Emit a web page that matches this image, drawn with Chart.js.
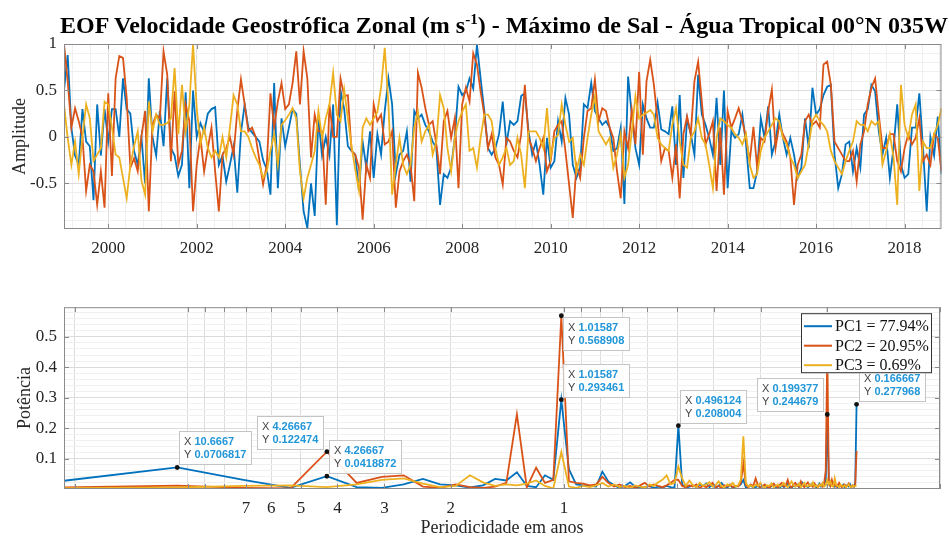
<!DOCTYPE html>
<html>
<head>
<meta charset="utf-8">
<script src="https://cdn.jsdelivr.net/npm/chart.js@4.4.0/dist/chart.umd.min.js"></script>
<style>
  body { margin: 0; background: #fff; width: 949px; height: 540px; overflow: hidden; position: relative; }
  #title { position: absolute; left: 504px; top: 13px; transform: translateX(-50%); white-space: nowrap;
           font: bold 24px "Liberation Serif", "Times New Roman", serif; line-height: 24px; color: #000; z-index: 2; }
  #title sup { font-size: 15px; vertical-align: 9px; line-height: 0; }
  #c1 { position: absolute; left: 0; top: 0; }
  #c2 { position: absolute; left: 0; top: 290px; }
</style>
</head>
<body>
<div id="title">EOF Velocidade Geostrófica Zonal (m s<sup>-1</sup>) - Máximo de Sal - Água Tropical 00°N 035W</div>
<canvas id="c1" width="949" height="262"></canvas>
<canvas id="c2" width="949" height="250"></canvas>
<script>
// monthly amplitudes, Jan 1999 .. Nov 2018
const startYear = 1999;
const pc1Amp = [
  0.5, 0.88, 0.1, -0.2, -0.3, 0.3, -0.05, -0.1, -0.68, 0.35, -0.2, 0.3,
  -0.05, 0.3, 0.3, 0.0, 0.63, 0.3, 0.25, -0.15, -0.3, 0.0, -0.5, 0.63,
  0.0, -0.2, 0.28, -0.1, 0.63, -0.12, -0.2, -0.42, -0.3, 0.48, -0.55, 0.5,
  0.0, 0.15, 0.05, 0.25, 0.3, 0.32, -0.3, -0.2, -0.48, -0.3, -0.1, -0.6,
  0.05, 0.35, 0.1, 0.05, 0.0, -0.05, -0.25, -0.35, -0.62, 0.58, -0.55, 0.2,
  -0.1, 0.1, 0.3, 0.25, -0.3, -0.8, -0.98, -0.5, -0.85, 0.2, -0.2, 0.0,
  -0.2, 0.35, -0.95, 0.5, 0.3, -0.1, -0.15, -0.19, -0.58, -0.05, -0.33, 0.06,
  -0.44, 0.03, -0.19, 0.28, 0.63, 0.35, -0.4, -0.19, -0.15, 0.06, -0.48, 0.28,
  0.2, 0.24, 0.13, 0.06, -0.05, -0.12, -0.73, -0.4, -0.44, -0.33, -0.01, 0.54,
  0.45, 0.49, 0.63, 0.52, 0.99, 0.63, 0.28, -0.12, -0.19, -0.12, 0.03, 0.38,
  -0.08, 0.17, 0.13, 0.17, 0.44, 0.47, 0.06, -0.19, -0.05, -0.3, -0.62, -0.01,
  -0.33, -0.26, 0.17, -0.05, 0.42, 0.24, -0.3, -0.44, -0.33, 0.35, 0.31, 0.58,
  0.28, 0.2, 0.13, 0.17, 0.1, -0.15, -0.12, 0.1, -0.72, 0.65, 0.24, -0.12,
  -0.3, 0.35, 0.2, 0.1, 0.1, 0.37, 0.08, 0.06, 0.03, 0.33, -0.3, 0.45,
  -0.44, 0.2, 0.03, -0.19, 0.67, 0.24, 0.13, -0.01, -0.19, 0.42, -0.3, 0.5,
  -0.55, 0.06, -0.01, 0.03, 0.24, -0.08, -0.55, -0.55, -0.37, 0.2, -0.01, 0.33,
  -0.19, -0.05, 0.24, -0.01, -0.19, -0.01, -0.19, -0.44, -0.33, 0.2, -0.12, 0.53,
  0.24, 0.3, 0.45, 0.54, 0.56, -0.19, -0.55, -0.4, -0.08, -0.05, -0.37, -0.12,
  -0.33, 0.24, 0.3, 0.56, 0.49, 0.06, -0.19, -0.01, -0.44, -0.12, 0.35, -0.3,
  -0.44, -0.4, 0.1, 0.1, 0.47, -0.12, -0.8, 0.0, -0.2, 0.22, -0.4
];
const pc2Amp = [
  1.0, 0.6, 0.1, 0.31, 0.17, 0.0, -0.58, -0.3, -0.37, -0.73, -0.37, -0.76,
  0.47, -0.42, 0.63, 0.87, 0.85, 0.42, -0.33, -0.23, -0.37, 0.0, 0.28, -0.8,
  0.13, 0.24, 0.2, 0.92, 0.67, -0.26, 0.49, -0.3, -0.15, 0.35, 0.17, -0.8,
  -0.3, 0.0, -0.37, -0.12, 0.1, -0.37, -0.8, -0.19, -0.12, 0.0, -0.19, 0.28,
  0.62, 0.35, 0.06, 0.1, 0.0, -0.25, -0.51, -0.3, 0.47, 0.1, 0.38, 0.58,
  0.3, 0.35, 0.58, 0.92, 0.35, 0.92, 0.63, -0.22, 0.24, 0.06, 0.06, -0.73,
  0.35, 0.0, 0.0, 0.63, 0.44, 0.45, -0.15, -0.19, -0.33, -0.89, -0.3, -0.44,
  0.35, 0.17, 0.24, -0.08, -0.05, 0.06, -0.76, -0.37, -0.26, -0.19, -0.3, -0.69,
  0.69, 0.53, 0.31, 0.13, 0.17, -0.08, -0.4, 0.17, 0.28, -0.01, 0.2, -0.55,
  0.35, 0.53, 0.38, 0.9, 0.78, 0.49, 0.24, -0.12, 0.03, -0.22, -0.3, -0.51,
  -0.01, -0.05, -0.15, -0.22, 0.03, 0.56, -0.01, -0.12, -0.26, -0.12, -0.01, -0.37,
  -0.26, 0.06, 0.13, 0.17, -0.15, -0.51, -0.87, -0.3, -0.44, -0.01, 0.28, 0.31,
  0.62, 0.17, 0.31, 0.28, 0.1, -0.01, -0.37, -0.66, 0.06, -0.12, 0.29, -0.08,
  0.7, -0.19, 0.6, 0.83, 0.56, 0.17, -0.26, -0.12, -0.15, -0.44, -0.08, -0.66,
  0.03, 0.22, 0.03, 0.6, 0.81, 0.38, -0.08, 0.03, 0.17, -0.58, 0.1, -0.62,
  0.28, 0.1, 0.2, 0.31, 0.17, -0.01, -0.26, 0.11, -0.33, -0.01, -0.05, 0.28,
  0.51, -0.12, 0.13, 0.03, -0.05, -0.22, -0.73, -0.3, -0.19, 0.17, 0.24, 0.13,
  0.17, 0.1, 0.78, 0.81, 0.56, -0.05, -0.12, -0.19, -0.26, -0.26, -0.15, -0.48,
  -0.08, 0.06, 0.35, 0.53, 0.63, 0.24, -0.12, -0.12, 0.03, 0.03, -0.26, -0.37,
  -0.12, 0.03, -0.08, -0.01, 0.2, -0.26, -0.19, -0.3, 0.03, -0.01, -0.37
];
const pc3Amp = [
  0.35, -0.01, -0.3, -0.05, -0.4, 0.0, 0.35, 0.2, -0.26, -0.19, -0.12, 0.38,
  0.35, 0.1, -0.19, -0.22, -0.44, -0.66, -0.3, -0.1, 0.06, -0.47, -0.62, 0.38,
  0.06, 0.24, 0.13, 0.13, 0.15, 0.2, 0.74, 0.03, 0.56, 0.06, 0.35, 1.0,
  0.31, -0.08, 0.1, -0.12, -0.22, -0.15, -0.22, 0.0, -0.22, 0.1, 0.45, 0.35,
  0.06, 0.06, 0.0, -0.12, -0.22, -0.3, -0.44, -0.37, -0.15, 0.03, -0.3, 0.13,
  0.18, 0.24, 0.31, 0.2, -0.37, -0.66, -0.44, -0.3, -0.15, 0.28, -0.01, 0.2,
  0.35, 0.69, 0.24, 0.17, 0.51, 0.2, -0.1, -0.35, -0.58, 0.1, 0.2, 0.13,
  0.2, 0.27, 0.53, 0.96, 0.35, -0.62, -0.3, -0.01, -0.3, -0.4, -0.3, 0.1,
  0.27, -0.05, 0.06, 0.13, -0.19, -0.05, 0.45, 0.31, -0.12, -0.37, -0.01, 0.17,
  0.27, 0.35, -0.15, -0.12, -0.33, -0.01, 0.24, 0.24, 0.17, -0.12, -0.3, -0.22,
  -0.12, -0.3, -0.26, -0.01, -0.19, -0.55, 0.06, 0.06, 0.06, -0.01, -0.12, 0.31,
  -0.22, -0.01, 0.02, 0.35, 0.13, -0.05, -0.01, -0.37, -0.19, -0.3, -0.01, 0.24,
  0.44, 0.06, -0.01, -0.08, -0.01, -0.33, -0.19, 0.03, -0.44, -0.3, 0.06, 0.44,
  0.2, 0.24, 0.26, 0.29, 0.24, -0.01, -0.08, -0.12, -0.15, 0.13, 0.31, -0.05,
  -0.3, -0.33, -0.01, 0.06, 0.2, -0.01, -0.08, -0.3, -0.55, -0.01, 0.2, 0.17,
  0.13, 0.1, 0.03, -0.01, -0.08, 0.03, -0.3, -0.44, -0.4, -0.15, -0.01, 0.06,
  0.13, 0.2, 0.17, -0.01, -0.08, -0.22, -0.3, -0.44, -0.37, -0.3, -0.08, 0.17,
  0.24, 0.17, 0.13, 0.06, -0.15, -0.26, -0.33, -0.4, -0.26, -0.15, -0.05, 0.17,
  0.13, 0.13, 0.06, 0.17, 0.13, 0.17, -0.3, -0.15, 0.03, -0.22, -0.73, 0.56,
  0.13, -0.01, 0.24, 0.35, -0.58, -0.05, -0.12, -0.12, 0.03, 0.13, 0.31
];

// spectrum: period of each frequency bin, in years
const periodYears = [
  21.3333, 10.6667, 7.1111, 5.3333, 4.26667, 3.5556, 3.0476, 2.6667, 2.3704, 2.1333, 1.9394, 1.7778, 1.6410, 1.5238, 1.4222, 1.3333,
  1.2549, 1.1852, 1.1228, 1.0667, 1.01587, 0.9697, 0.9275, 0.8889, 0.8533, 0.8205, 0.7901, 0.7619, 0.7356, 0.7111, 0.6882, 0.6667,
  0.6465, 0.6275, 0.6095, 0.5926, 0.5766, 0.5614, 0.5470, 0.5333, 0.5203, 0.5079, 0.496124, 0.4848, 0.4741, 0.4638, 0.4539, 0.4444,
  0.4354, 0.4267, 0.4183, 0.4103, 0.4025, 0.3951, 0.3879, 0.3810, 0.3743, 0.3678, 0.3616, 0.3556, 0.3497, 0.3441, 0.3386, 0.3333,
  0.3282, 0.3232, 0.3184, 0.3137, 0.3092, 0.3048, 0.3005, 0.2963, 0.2922, 0.2883, 0.2844, 0.2807, 0.2771, 0.2735, 0.2700, 0.2667,
  0.2634, 0.2602, 0.2570, 0.2540, 0.2510, 0.2481, 0.2452, 0.2424, 0.2397, 0.2370, 0.2344, 0.2319, 0.2294, 0.2270, 0.2246, 0.2222,
  0.2199, 0.2177, 0.2155, 0.2133, 0.2112, 0.2092, 0.2071, 0.2051, 0.2032, 0.2013, 0.199377, 0.1975, 0.1957, 0.1939, 0.1922, 0.1905,
  0.1888, 0.1872, 0.1855, 0.1839, 0.1823, 0.1808, 0.1793, 0.1778, 0.1763, 0.1749, 0.1734, 0.1720, 0.1707, 0.1693, 0.1680, 0.166667
];
const pc1Pow = [
  0.027, 0.0706817, 0.030, 0.004, 0.0418872, 0.006, 0.004, 0.015, 0.033, 0.015, 0.012, 0.005, 0.012, 0.033, 0.028, 0.055,
  0.010, 0.006, 0.045, 0.030, 0.293461, 0.065, 0.015, 0.012, 0.010, 0.008, 0.057, 0.025, 0.012, 0.004, 0.010, 0.022,
  0.008, 0.004, 0.006, 0.010, 0.003, 0.008, 0.005, 0.010, 0.006, 0.004, 0.208004, 0.015, 0.004, 0.008, 0.012, 0.006,
  0.015, 0.010, 0.018, 0.006, 0.012, 0.004, 0.010, 0.020, 0.008, 0.005, 0.012, 0.004, 0.008, 0.010, 0.015, 0.030,
  0.005, 0.008, 0.012, 0.004, 0.006, 0.010, 0.004, 0.008, 0.012, 0.006, 0.004, 0.010, 0.015, 0.006, 0.008, 0.004,
  0.012, 0.006, 0.010, 0.018, 0.006, 0.004, 0.010, 0.008, 0.014, 0.006, 0.010, 0.020, 0.008, 0.012, 0.005, 0.010,
  0.016, 0.008, 0.012, 0.006, 0.010, 0.018, 0.008, 0.012, 0.015, 0.030, 0.244679, 0.025, 0.010, 0.015, 0.020, 0.008,
  0.012, 0.006, 0.015, 0.010, 0.008, 0.014, 0.006, 0.012, 0.010, 0.008, 0.015, 0.006, 0.012, 0.008, 0.020, 0.277968
];
const pc2Pow = [
  0.005, 0.011, 0.004, 0.002, 0.122474, 0.020, 0.040, 0.045, 0.008, 0.004, 0.015, 0.006, 0.004, 0.008, 0.020, 0.245,
  0.005, 0.070, 0.020, 0.030, 0.568908, 0.025, 0.020, 0.018, 0.012, 0.015, 0.040, 0.020, 0.008, 0.015, 0.006, 0.010,
  0.004, 0.012, 0.020, 0.008, 0.015, 0.010, 0.006, 0.012, 0.020, 0.030, 0.030, 0.010, 0.006, 0.012, 0.008, 0.015,
  0.004, 0.010, 0.006, 0.012, 0.020, 0.006, 0.010, 0.004, 0.012, 0.008, 0.015, 0.006, 0.010, 0.008, 0.020, 0.085,
  0.012, 0.006, 0.015, 0.010, 0.035, 0.012, 0.006, 0.010, 0.015, 0.008, 0.004, 0.012, 0.018, 0.010, 0.006, 0.014,
  0.020, 0.008, 0.012, 0.030, 0.010, 0.006, 0.015, 0.020, 0.010, 0.008, 0.025, 0.012, 0.006, 0.015, 0.022, 0.010,
  0.012, 0.008, 0.018, 0.010, 0.006, 0.012, 0.015, 0.008, 0.020, 0.060, 0.450, 0.030, 0.012, 0.030, 0.010, 0.015,
  0.008, 0.012, 0.020, 0.010, 0.006, 0.012, 0.015, 0.008, 0.012, 0.018, 0.010, 0.006, 0.012, 0.008, 0.015, 0.125
];
const pc3Pow = [
  0.003, 0.005, 0.010, 0.012, 0.006, 0.015, 0.030, 0.035, 0.018, 0.006, 0.010, 0.045, 0.022, 0.010, 0.015, 0.012,
  0.018, 0.028, 0.010, 0.002, 0.122, 0.008, 0.004, 0.010, 0.006, 0.012, 0.020, 0.008, 0.015, 0.006, 0.010, 0.004,
  0.012, 0.008, 0.005, 0.015, 0.010, 0.022, 0.030, 0.045, 0.015, 0.020, 0.074, 0.035, 0.010, 0.028, 0.012, 0.006,
  0.020, 0.010, 0.015, 0.022, 0.008, 0.012, 0.025, 0.010, 0.006, 0.015, 0.010, 0.020, 0.008, 0.012, 0.030, 0.173,
  0.020, 0.008, 0.012, 0.006, 0.015, 0.010, 0.020, 0.008, 0.005, 0.012, 0.010, 0.018, 0.006, 0.010, 0.015, 0.008,
  0.012, 0.020, 0.010, 0.006, 0.015, 0.025, 0.012, 0.008, 0.010, 0.018, 0.006, 0.012, 0.020, 0.010, 0.008, 0.015,
  0.010, 0.022, 0.008, 0.012, 0.006, 0.015, 0.010, 0.020, 0.008, 0.012, 0.030, 0.015, 0.025, 0.010, 0.008, 0.035,
  0.012, 0.010, 0.006, 0.015, 0.010, 0.008, 0.012, 0.006, 0.010, 0.015, 0.008, 0.006, 0.012, 0.008, 0.010, 0.012
];

const legendLabels = ['PC1 = 77.94%', 'PC2 = 20.95%', 'PC3 = 0.69%'];
const periodTicks = [7, 6, 5, 4, 3, 2, 1];
const periodGrid = [20, 10, 9, 8, 7, 6, 5, 4, 3, 2, 1, 0.9, 0.8, 0.7, 0.6, 0.5, 0.4, 0.3, 0.2, 0.1];

// data tips: which series, which bin, shown text
const tipSeries = [0, 1, 0, 1, 0, 0, 0, 0];
const tipBin = [1, 4, 4, 20, 20, 42, 106, 127];
const tipXText = ['10.6667', '4.26667', '4.26667', '1.01587', '1.01587', '0.496124', '0.199377', '0.166667'];
const tipYText = ['0.0706817', '0.122474', '0.0418872', '0.568908', '0.293461', '0.208004', '0.244679', '0.277968'];
const tipSide = ['ne', 'nw', 'ne', 'se', 'ne', 'ne', 'nw', 'ne'];

const colors = ['#0072BD', '#D95319', '#EDB120'];
const serif = '"Liberation Serif", "Times New Roman", serif';
const sans = '"Liberation Sans", Arial, sans-serif';
const gridMajor = '#dcdcdc';
const gridMinor = '#f0f0f0';
const boxColor = '#8a8a8a';

Chart.defaults.font.family = serif;
Chart.defaults.font.size = 17;
Chart.defaults.color = '#262626';

const near = (v, step) => Math.abs(v / step - Math.round(v / step)) < 1e-6;

function lineSet(label, data, color, order) {
  return { label, data, borderColor: color, backgroundColor: color, borderWidth: 1.8,
           pointRadius: 0, tension: 0, order };
}

// axes box, inner tick marks and axis titles
function framePlugin(opts) {
  return {
    id: 'frame',
    afterDraw(chart) {
      const { ctx, chartArea: a } = chart;
      const xs = chart.scales.x, ys = chart.scales.y;
      ctx.save();
      ctx.strokeStyle = boxColor;
      ctx.lineWidth = 1;
      ctx.strokeRect(a.left + 0.5, a.top + 0.5, a.right - a.left - 1, a.bottom - a.top - 1);
      ctx.beginPath();
      opts.xMarks.forEach(v => {
        const x = Math.round(xs.getPixelForValue(v)) + 0.5;
        ctx.moveTo(x, a.top); ctx.lineTo(x, a.top + 5);
        ctx.moveTo(x, a.bottom); ctx.lineTo(x, a.bottom - 5);
      });
      opts.yMarks.forEach(v => {
        const y = Math.round(ys.getPixelForValue(v)) + 0.5;
        ctx.moveTo(a.left, y); ctx.lineTo(a.left + 5, y);
        ctx.moveTo(a.right, y); ctx.lineTo(a.right - 5, y);
      });
      ctx.stroke();
      ctx.fillStyle = '#262626';
      ctx.font = '18px ' + serif;
      ctx.textAlign = 'center';
      ctx.textBaseline = 'middle';
      ctx.save();
      ctx.translate(opts.yTitleX, (a.top + a.bottom) / 2);
      ctx.rotate(-Math.PI / 2);
      ctx.fillText(opts.yTitle, 0, 0);
      ctx.restore();
      if (opts.xTitle) ctx.fillText(opts.xTitle, (a.left + a.right) / 2, opts.xTitleY);
      ctx.restore();
    }
  };
}

// ---------- top: amplitude time series ----------
const tMax = startYear + (pc1Amp.length - 1) / 12;
const toTime = arr => arr.map((v, i) => ({ x: startYear + i / 12, y: v }));

new Chart(document.getElementById('c1'), {
  type: 'line',
  data: {
    datasets: [
      lineSet('PC1', toTime(pc1Amp), colors[0], 3),
      lineSet('PC2', toTime(pc2Amp), colors[1], 2),
      lineSet('PC3', toTime(pc3Amp), colors[2], 1)
    ]
  },
  options: {
    responsive: false, animation: false, events: [],
    layout: { padding: { top: 44, right: 5, left: 0, bottom: 0 } },
    plugins: { legend: { display: false }, tooltip: { enabled: false } },
    scales: {
      x: {
        type: 'linear', min: startYear, max: tMax,
        afterBuildTicks: s => {
          const t = [];
          for (let v = startYear + 0.2; v <= tMax + 1e-6; v += 0.4) t.push({ value: Math.round(v * 10) / 10 });
          s.ticks = t;
        },
        afterFit: s => { s.height = 33; },
        grid: { drawTicks: false, color: c => near(c.tick.value, 2) ? gridMajor : gridMinor },
        border: { display: false },
        ticks: { autoSkip: false, maxRotation: 0, padding: 9,
                 callback: v => near(v, 2) ? String(Math.round(v)) : '' }
      },
      y: {
        min: -0.99, max: 1,
        afterBuildTicks: s => {
          const t = [];
          for (let k = -9; k <= 10; k++) t.push({ value: k / 10 });
          s.ticks = t;
        },
        afterFit: s => { s.width = 64; },
        grid: { drawTicks: false, color: c => near(c.tick.value, 0.5) ? gridMajor : gridMinor },
        border: { display: false },
        ticks: { autoSkip: false, padding: 7,
                 callback: v => near(v, 0.5) ? String(v) : '' }
      }
    }
  },
  plugins: [framePlugin({
    xMarks: [2000, 2002, 2004, 2006, 2008, 2010, 2012, 2014, 2016, 2018],
    yMarks: [-0.5, 0, 0.5],
    yTitle: 'Amplitude', yTitleX: 20
  })]
});

// ---------- bottom: power spectrum ----------
const toSpec = arr => arr.map((v, i) => ({ x: periodYears[i], y: v }));
const specSets = [
  lineSet(legendLabels[0], toSpec(pc1Pow), colors[0], 3),
  lineSet(legendLabels[1], toSpec(pc2Pow), colors[1], 2),
  lineSet(legendLabels[2], toSpec(pc3Pow), colors[2], 1)
];

const tipsPlugin = {
  id: 'tips',
  afterDatasetsDraw(chart) {
    const { ctx, chartArea: a } = chart;
    const xs = chart.scales.x, ys = chart.scales.y;
    ctx.save();
    tipBin.forEach((bin, i) => {
      const p = specSets[tipSeries[i]].data[bin];
      const px = xs.getPixelForValue(p.x), py = ys.getPixelForValue(p.y);
      ctx.font = '11px ' + sans;
      const wl = ctx.measureText('X ').width;
      ctx.font = 'bold 11px ' + sans;
      const wv = Math.max(ctx.measureText(tipXText[i]).width, ctx.measureText(tipYText[i]).width);
      const w = Math.round(wl + wv + 11), h = 34;
      const bx = Math.round(tipSide[i][1] === 'e' ? px + 2 : px - 3 - w);
      const by = Math.round(tipSide[i][0] === 'n' ? py - 2 - h : py + 1);
      ctx.fillStyle = 'rgba(255,255,255,0.92)';
      ctx.fillRect(bx, by, w, h);
      ctx.strokeStyle = '#c4c4c4';
      ctx.lineWidth = 1;
      ctx.strokeRect(bx + 0.5, by + 0.5, w - 1, h - 1);
      ctx.textBaseline = 'middle';
      ctx.textAlign = 'left';
      ['X', 'Y'].forEach((lab, r) => {
        const ty = by + 11 + r * 13;
        ctx.font = '11px ' + sans;
        ctx.fillStyle = '#444';
        ctx.fillText(lab, bx + 5, ty);
        ctx.font = 'bold 11px ' + sans;
        ctx.fillStyle = '#2196d8';
        ctx.fillText(r === 0 ? tipXText[i] : tipYText[i], bx + 5 + wl, ty);
      });
      ctx.fillStyle = '#111';
      ctx.beginPath();
      ctx.arc(px, py, 2.4, 0, Math.PI * 2);
      ctx.fill();
    });

    // legend box
    const lw = 131, lh = 60;
    const lx = a.right - 8 - lw, ly = a.top + 6;
    ctx.fillStyle = '#fff';
    ctx.fillRect(lx, ly, lw, lh);
    ctx.strokeStyle = '#333';
    ctx.strokeRect(lx + 0.5, ly + 0.5, lw - 1, lh - 1);
    ctx.font = '16px ' + serif;
    ctx.textBaseline = 'middle';
    specSets.forEach((ds, i) => {
      const ry = ly + 13 + i * 19.5;
      ctx.strokeStyle = ds.borderColor;
      ctx.lineWidth = 2;
      ctx.beginPath();
      ctx.moveTo(lx + 3, ry); ctx.lineTo(lx + 31, ry);
      ctx.stroke();
      ctx.fillStyle = '#111';
      ctx.fillText(ds.label, lx + 34, ry + 1);
    });
    ctx.restore();
  }
};

new Chart(document.getElementById('c2'), {
  type: 'line',
  data: { datasets: specSets },
  options: {
    responsive: false, animation: false, events: [],
    layout: { padding: { top: 13, right: 5, left: 0, bottom: 0 } },
    plugins: { legend: { display: false }, tooltip: { enabled: false } },
    scales: {
      x: {
        type: 'logarithmic', reverse: true, min: 0.1, max: 21.3333,
        afterBuildTicks: s => { s.ticks = periodGrid.map(v => ({ value: v })); },
        afterFit: s => { s.height = 51; },
        grid: { drawTicks: false, color: gridMajor },
        border: { display: false },
        ticks: { autoSkip: false, maxRotation: 0, padding: 9,
                 callback: v => periodTicks.includes(v) ? String(v) : '' }
      },
      y: {
        min: 0, max: 0.597,
        afterBuildTicks: s => {
          const t = [];
          for (let k = 1; k <= 29; k++) t.push({ value: k / 50 });
          s.ticks = t;
        },
        afterFit: s => { s.width = 64; },
        grid: { drawTicks: false, color: c => near(c.tick.value, 0.1) ? gridMajor : gridMinor },
        border: { display: false },
        ticks: { autoSkip: false, padding: 7,
                 callback: v => near(v, 0.1) ? String(Math.round(v * 10) / 10) : '' }
      }
    }
  },
  plugins: [tipsPlugin, framePlugin({
    xMarks: periodGrid,
    yMarks: [0.1, 0.2, 0.3, 0.4, 0.5],
    yTitle: 'Potência', yTitleX: 25,
    xTitle: 'Periodicidade em anos', xTitleY: 238
  })]
});
</script>
</body>
</html>
